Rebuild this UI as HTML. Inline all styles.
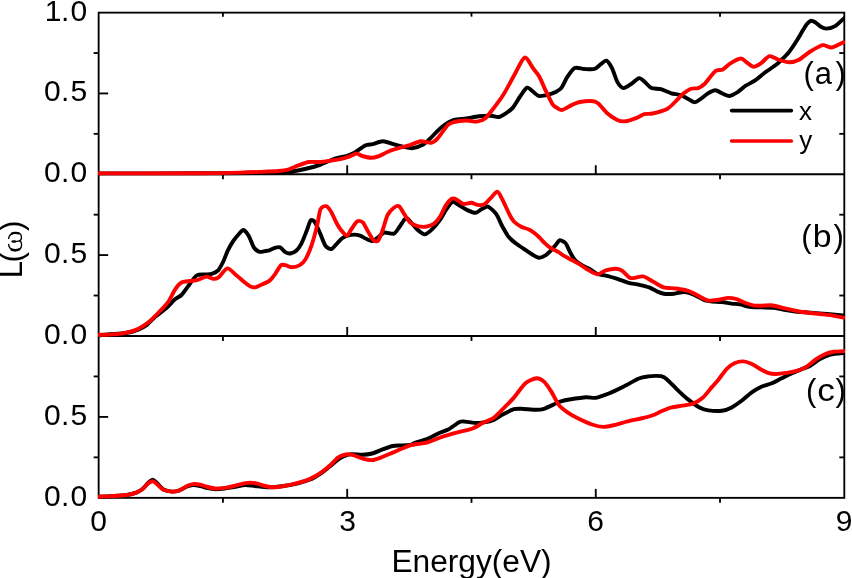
<!DOCTYPE html>
<html><head><meta charset="utf-8"><style>
html,body{margin:0;padding:0;background:#fff;width:852px;height:578px;overflow:hidden}
svg{display:block;will-change:transform;font-family:"Liberation Sans", sans-serif}
</style></head><body><svg width="852" height="578" viewBox="0 0 852 578"><defs><clipPath id="cp"><rect x="97.8" y="0" width="747.2" height="578"/></clipPath></defs><g stroke="#000" stroke-width="1.85" fill="none"><rect x="98.65" y="12.64" width="745.65" height="485.21000000000004" fill="none"/><line x1="98.65" y1="174.25" x2="844.3" y2="174.25"/><line x1="98.65" y1="335.95" x2="844.3" y2="335.95"/><line x1="98.65" y1="93.44" x2="108.15" y2="93.44"/><line x1="93.65" y1="133.85" x2="98.65" y2="133.85"/><line x1="839.3" y1="133.85" x2="844.3" y2="133.85"/><line x1="93.65" y1="53.04" x2="98.65" y2="53.04"/><line x1="839.3" y1="53.04" x2="844.3" y2="53.04"/><line x1="347.20" y1="174.25" x2="347.20" y2="165.25"/><line x1="595.75" y1="174.25" x2="595.75" y2="165.25"/><line x1="222.93" y1="174.25" x2="222.93" y2="179.25"/><line x1="471.48" y1="174.25" x2="471.48" y2="179.25"/><line x1="720.02" y1="174.25" x2="720.02" y2="179.25"/><line x1="98.65" y1="255.10" x2="108.15" y2="255.10"/><line x1="93.65" y1="295.52" x2="98.65" y2="295.52"/><line x1="839.3" y1="295.52" x2="844.3" y2="295.52"/><line x1="93.65" y1="214.68" x2="98.65" y2="214.68"/><line x1="839.3" y1="214.68" x2="844.3" y2="214.68"/><line x1="347.20" y1="335.95" x2="347.20" y2="326.95"/><line x1="595.75" y1="335.95" x2="595.75" y2="326.95"/><line x1="222.93" y1="335.95" x2="222.93" y2="340.95"/><line x1="471.48" y1="335.95" x2="471.48" y2="340.95"/><line x1="720.02" y1="335.95" x2="720.02" y2="340.95"/><line x1="98.65" y1="416.90" x2="108.15" y2="416.90"/><line x1="93.65" y1="457.38" x2="98.65" y2="457.38"/><line x1="839.3" y1="457.38" x2="844.3" y2="457.38"/><line x1="93.65" y1="376.43" x2="98.65" y2="376.43"/><line x1="839.3" y1="376.43" x2="844.3" y2="376.43"/><line x1="347.20" y1="497.85" x2="347.20" y2="488.85"/><line x1="595.75" y1="497.85" x2="595.75" y2="488.85"/><line x1="222.93" y1="497.85" x2="222.93" y2="502.85"/><line x1="471.48" y1="497.85" x2="471.48" y2="502.85"/><line x1="720.02" y1="497.85" x2="720.02" y2="502.85"/><line x1="222.93" y1="12.64" x2="222.93" y2="16.64"/><line x1="471.48" y1="12.64" x2="471.48" y2="16.64"/><line x1="720.02" y1="12.64" x2="720.02" y2="16.64"/></g><g clip-path="url(#cp)" fill="none" stroke-width="3.9" stroke-linejoin="round" stroke-linecap="butt"><path d="M98.0,173.4C110.9,173.4 179.5,173.3 200.0,173.3C220.5,173.3 250.5,173.2 260.0,173.1C269.5,173.0 271.4,172.9 275.0,172.8C278.6,172.7 284.1,172.8 288.2,172.3C292.3,171.8 303.0,169.4 307.0,168.5C311.0,167.6 316.5,166.1 320.0,164.8C323.5,163.5 331.7,159.7 335.0,158.6C338.3,157.5 344.0,156.7 346.4,156.0C348.8,155.3 351.5,154.3 353.9,153.0C356.3,151.7 362.8,146.5 365.2,145.4C367.6,144.3 370.4,144.6 372.7,144.1C375.0,143.6 380.1,141.2 383.0,141.3C385.9,141.4 392.8,144.0 395.2,144.7C397.6,145.4 399.9,146.1 402.0,146.5C404.1,146.9 409.4,148.4 412.0,148.2C414.6,148.0 420.4,146.1 422.8,144.8C425.2,143.5 428.7,139.8 431.1,137.6C433.5,135.4 438.6,129.4 441.5,127.2C444.4,125.0 450.8,121.0 454.0,119.9C457.2,118.8 463.2,119.0 466.4,118.5C469.6,118.0 475.7,116.5 478.9,116.2C482.1,115.9 488.7,115.7 491.3,115.8C493.9,115.9 497.0,117.7 499.6,116.8C502.2,115.9 509.5,111.1 512.1,108.5C514.7,105.9 518.5,98.6 520.4,96.0C522.3,93.4 525.4,88.3 527.0,87.7C528.6,87.1 531.4,90.4 532.9,91.5C534.4,92.6 537.0,95.6 539.1,96.0C541.2,96.4 547.5,94.9 549.5,94.4C551.5,93.9 553.5,93.1 555.0,92.3C556.5,91.5 559.6,90.1 561.2,88.1C562.8,86.1 565.8,79.2 567.5,76.7C569.2,74.2 572.6,69.0 574.7,68.0C576.8,67.0 581.6,68.9 584.1,69.0C586.6,69.1 592.3,69.6 594.4,69.0C596.5,68.4 599.2,65.4 600.7,64.3C602.2,63.2 605.1,60.2 606.5,60.7C607.9,61.2 610.7,65.7 612.1,68.4C613.5,71.1 615.9,79.4 617.3,81.9C618.7,84.4 621.7,87.9 623.5,88.1C625.3,88.3 629.8,84.9 631.8,83.6C633.8,82.3 637.5,78.5 639.1,78.2C640.7,77.9 642.7,80.2 644.3,81.5C645.9,82.8 649.4,87.1 651.5,88.1C653.6,89.1 658.4,88.5 660.9,89.2C663.4,89.9 668.7,92.5 671.3,93.3C673.9,94.1 678.7,94.3 681.6,95.4C684.5,96.5 691.8,101.7 694.1,102.2C696.4,102.7 698.3,100.5 700.0,99.4C701.7,98.3 705.7,94.9 707.6,93.7C709.5,92.5 713.3,90.3 715.2,90.3C717.1,90.3 721.0,93.0 722.8,93.7C724.6,94.4 727.6,96.2 729.5,96.0C731.4,95.8 735.9,93.1 738.0,91.8C740.1,90.5 743.5,87.1 745.7,85.7C747.9,84.3 752.8,82.0 755.2,80.4C757.6,78.8 762.1,74.8 764.7,72.8C767.3,70.8 774.1,66.3 776.1,64.8C778.1,63.3 778.8,62.4 780.4,60.8C782.0,59.2 786.6,55.0 788.7,52.4C790.8,49.8 795.2,43.2 797.0,40.3C798.8,37.4 801.9,31.9 803.2,29.8C804.5,27.7 806.2,24.7 807.3,23.6C808.4,22.5 810.3,20.8 811.5,20.8C812.7,20.8 815.6,22.6 816.7,23.3C817.8,24.0 819.3,25.8 820.5,26.5C821.7,27.2 824.7,28.6 826.5,28.6C828.3,28.6 832.8,27.6 835.1,26.2C837.4,24.8 843.7,18.6 845.0,17.5" stroke="#000"/><path d="M98.0,173.4C110.9,173.4 182.0,173.3 200.0,173.2C218.0,173.1 232.4,172.8 240.0,172.6C247.6,172.4 255.1,172.1 260.0,171.9C264.9,171.7 275.2,171.3 278.8,171.0C282.4,170.7 285.8,170.2 288.2,169.5C290.6,168.8 295.0,166.6 297.6,165.7C300.2,164.8 305.9,162.5 308.8,162.0C311.7,161.5 317.2,162.2 320.1,162.0C323.0,161.8 328.5,160.9 331.4,160.5C334.2,160.1 340.2,159.1 342.6,158.6C345.0,158.1 348.3,156.9 350.1,156.3C351.9,155.7 355.2,153.5 356.7,153.5C358.2,153.5 360.5,155.5 362.3,156.0C364.1,156.5 368.8,157.8 370.8,157.8C372.8,157.8 375.9,157.2 378.3,156.3C380.7,155.4 386.5,152.2 389.6,151.0C392.7,149.8 400.1,147.8 402.7,147.0C405.3,146.2 408.1,145.5 410.4,144.8C412.7,144.1 418.2,141.6 420.8,141.3C423.4,141.0 429.0,143.1 431.1,142.8C433.2,142.5 435.3,140.8 437.4,138.6C439.5,136.4 445.6,127.2 447.7,125.1C449.8,123.0 451.6,122.6 454.0,122.0C456.4,121.4 463.5,120.6 466.4,120.5C469.3,120.4 474.4,121.9 476.8,121.6C479.2,121.3 483.0,120.2 485.1,118.5C487.2,116.8 491.0,111.6 493.4,108.5C495.8,105.4 501.2,98.2 503.8,94.0C506.4,89.8 511.6,79.9 514.2,75.3C516.8,70.7 522.2,58.5 524.6,57.6C527.0,56.7 531.1,65.6 532.9,68.0C534.7,70.4 537.5,73.5 539.1,76.3C540.7,79.1 543.6,86.2 545.3,89.8C547.0,93.4 551.0,102.0 552.6,104.4C554.2,106.8 556.8,107.8 558.0,108.5C559.2,109.2 560.6,110.3 562.3,109.9C564.0,109.5 569.4,106.1 571.6,105.1C573.8,104.1 577.1,102.5 579.9,102.0C582.7,101.5 591.0,101.0 593.4,101.2C595.8,101.4 596.9,102.2 598.6,103.7C600.3,105.2 604.5,110.9 606.9,113.0C609.3,115.1 614.9,118.8 617.3,119.9C619.7,121.0 623.2,121.5 625.6,121.3C628.0,121.1 633.6,119.1 636.0,118.2C638.4,117.3 642.2,114.7 644.3,114.1C646.4,113.5 649.7,114.2 652.6,113.5C655.5,112.8 664.2,110.4 667.1,108.9C670.0,107.4 673.3,103.6 675.4,101.6C677.5,99.6 681.7,94.9 683.7,93.3C685.7,91.7 689.2,89.5 691.0,88.8C692.8,88.1 696.5,88.7 698.2,88.1C699.9,87.5 702.3,86.1 704.5,84.0C706.7,81.9 712.9,73.1 715.2,71.3C717.5,69.5 720.9,70.5 722.8,69.5C724.7,68.5 728.1,64.7 730.4,63.3C732.7,61.9 738.8,58.6 740.9,58.5C743.0,58.4 745.0,61.3 746.6,62.3C748.2,63.3 751.5,66.6 753.3,66.7C755.1,66.8 758.9,64.6 760.9,63.3C762.9,62.0 767.2,56.7 769.4,56.2C771.6,55.7 775.5,58.7 778.0,59.5C780.5,60.3 786.8,62.3 789.4,62.3C792.0,62.3 796.3,61.2 798.9,59.8C801.5,58.4 807.3,53.3 810.3,51.5C813.3,49.7 820.0,45.7 822.7,45.2C825.4,44.7 828.5,48.0 831.3,47.5C834.1,47.0 843.3,42.3 845.0,41.5" stroke="#f00"/><path d="M98.0,335.4C101.7,335.1 122.3,333.5 127.4,332.8C132.5,332.1 135.7,330.6 138.2,329.6C140.7,328.6 144.7,326.4 146.9,324.8C149.1,323.2 153.0,318.7 155.5,316.6C158.0,314.5 163.9,310.2 166.4,308.0C168.9,305.8 173.1,300.9 175.0,299.3C176.9,297.7 179.9,296.6 181.5,295.0C183.1,293.4 186.1,288.9 188.0,286.4C189.9,283.9 194.4,277.0 196.6,275.5C198.8,274.0 203.4,274.7 205.3,274.5C207.2,274.3 210.2,274.3 211.8,273.8C213.4,273.3 216.7,271.9 218.2,270.3C219.7,268.7 222.1,263.9 223.3,261.5C224.5,259.1 226.3,253.6 227.5,251.1C228.7,248.6 231.6,243.5 233.0,241.4C234.4,239.3 237.2,235.9 238.5,234.5C239.8,233.1 242.1,229.8 243.4,230.0C244.7,230.2 247.6,234.0 248.9,236.2C250.2,238.4 252.5,245.4 253.8,247.4C255.1,249.4 257.9,251.3 259.3,251.8C260.7,252.3 263.7,251.3 265.0,251.1C266.3,250.9 268.2,250.7 269.5,250.3C270.8,249.9 273.6,248.3 274.9,247.9C276.2,247.5 278.8,246.9 280.1,247.4C281.4,247.9 284.0,251.4 285.3,252.2C286.6,253.0 288.6,253.7 290.0,253.5C291.4,253.3 294.8,252.1 296.2,250.8C297.6,249.5 300.1,246.1 301.4,243.6C302.7,241.1 305.4,234.0 306.6,231.1C307.8,228.2 309.6,221.5 310.7,220.4C311.8,219.3 313.7,220.7 314.9,222.3C316.1,223.9 318.8,230.2 320.1,233.2C321.4,236.2 323.9,243.6 325.3,245.6C326.7,247.6 330.0,249.3 331.5,249.0C333.0,248.7 335.8,244.7 337.2,243.3C338.6,241.9 340.9,239.3 342.2,238.3C343.5,237.3 345.9,236.2 347.5,235.7C349.1,235.2 353.2,234.6 354.8,234.6C356.4,234.6 358.7,235.2 360.1,235.7C361.5,236.2 364.6,238.1 366.2,238.8C367.8,239.5 370.8,241.3 372.4,241.0C374.0,240.7 377.2,237.9 378.7,236.8C380.2,235.7 382.5,232.9 384.4,232.5C386.3,232.1 392.0,234.3 393.9,233.6C395.8,232.9 398.1,228.8 399.4,227.0C400.7,225.2 403.5,220.6 404.5,219.5C405.5,218.4 406.7,218.1 407.5,218.5C408.3,218.9 409.9,221.1 411.2,222.5C412.5,223.9 415.8,228.3 417.5,229.8C419.2,231.3 422.9,234.5 424.7,234.4C426.5,234.3 430.0,231.3 432.0,229.4C434.0,227.5 438.5,222.0 440.3,219.4C442.1,216.8 444.9,211.3 446.5,209.1C448.1,206.9 451.0,202.2 452.7,201.8C454.4,201.4 458.2,204.8 460.0,205.9C461.8,207.0 465.3,209.2 467.3,210.1C469.3,211.0 473.8,212.9 475.6,212.8C477.4,212.7 480.2,209.9 481.8,209.1C483.4,208.3 486.2,206.0 488.0,206.6C489.8,207.2 494.5,211.7 496.3,214.2C498.1,216.7 500.9,223.8 502.5,226.7C504.1,229.6 507.0,234.9 508.8,237.1C510.6,239.3 515.0,242.7 517.1,244.3C519.2,245.9 523.4,248.6 525.4,249.9C527.4,251.2 530.9,253.7 532.6,254.7C534.3,255.7 537.2,257.7 538.8,257.8C540.4,257.9 544.0,256.3 545.5,255.4C547.0,254.5 549.8,251.6 551.0,250.4C552.2,249.2 554.2,246.9 555.3,245.6C556.4,244.3 558.3,240.7 559.5,240.3C560.7,239.9 563.5,241.6 564.4,242.1C565.3,242.6 565.7,243.2 566.5,244.6C567.3,246.0 569.4,251.0 570.5,253.0C571.6,255.0 573.7,258.7 575.3,260.3C576.9,261.9 580.8,264.5 582.8,265.7C584.8,266.9 589.3,268.7 591.1,269.8C592.9,270.9 595.6,273.3 597.4,274.0C599.2,274.7 603.1,275.0 605.7,275.6C608.3,276.2 615.2,278.2 618.1,279.1C621.0,280.0 625.9,282.2 628.5,282.9C631.1,283.6 636.3,284.1 638.9,284.7C641.5,285.3 646.8,286.5 649.2,287.4C651.6,288.3 655.7,290.8 657.5,291.6C659.3,292.4 661.7,293.4 663.8,293.7C665.9,294.0 671.5,293.9 674.1,293.7C676.7,293.5 681.9,291.8 684.5,292.0C687.1,292.2 692.3,294.0 694.9,295.1C697.5,296.2 703.1,299.7 705.3,300.5C707.5,301.3 709.9,301.3 712.0,301.5C714.1,301.7 719.4,301.7 721.9,302.0C724.4,302.3 729.4,303.3 731.7,303.6C734.0,303.9 737.6,304.0 739.9,304.4C742.2,304.8 747.1,306.5 749.8,306.9C752.5,307.3 758.2,307.3 761.3,307.4C764.4,307.5 771.3,307.3 774.4,307.7C777.5,308.1 783.0,309.7 785.9,310.2C788.8,310.7 794.3,311.5 797.4,311.8C800.5,312.1 806.9,312.4 810.6,312.7C814.3,313.0 822.6,313.6 827.0,314.0C831.4,314.4 842.7,315.4 845.0,315.6" stroke="#000"/><path d="M98.0,335.0C99.8,334.9 109.1,334.6 112.3,334.4C115.5,334.2 120.4,333.8 123.1,333.3C125.8,332.8 131.4,331.6 133.9,330.7C136.4,329.8 140.4,327.8 142.6,326.4C144.8,325.0 149.0,321.8 151.2,319.9C153.4,318.0 157.7,313.5 159.9,311.2C162.1,308.9 166.6,304.2 168.5,301.5C170.4,298.8 173.4,292.0 175.0,289.6C176.6,287.2 179.6,283.6 181.5,282.5C183.4,281.4 188.0,281.3 190.1,281.0C192.2,280.7 195.6,280.5 197.7,279.9C199.8,279.3 204.5,276.7 206.4,276.6C208.3,276.5 211.3,278.7 212.8,278.8C214.3,278.9 216.4,279.0 218.2,277.7C220.0,276.4 225.1,268.8 227.3,268.4C229.5,268.0 233.4,272.8 235.5,274.5C237.6,276.2 242.4,280.5 244.2,282.0C246.0,283.5 248.6,285.5 250.0,286.2C251.4,286.9 253.6,287.6 255.2,287.3C256.8,287.0 260.7,285.0 262.5,284.2C264.3,283.4 268.1,281.8 269.7,280.6C271.3,279.4 273.5,276.3 274.9,274.4C276.3,272.5 279.4,266.7 280.7,265.5C282.0,264.3 283.9,264.9 285.3,265.1C286.7,265.3 289.7,267.2 291.5,267.2C293.3,267.2 298.0,266.1 299.8,265.1C301.6,264.1 304.1,261.7 305.6,259.1C307.1,256.5 310.4,248.8 311.8,244.6C313.2,240.4 315.9,230.4 317.0,225.9C318.1,221.4 319.4,211.5 320.6,209.0C321.8,206.5 324.9,205.8 326.3,206.2C327.7,206.6 330.3,210.4 331.5,212.4C332.7,214.4 334.8,219.8 336.0,222.0C337.2,224.2 339.6,228.3 341.0,230.0C342.4,231.7 345.6,235.8 346.9,235.7C348.2,235.6 350.2,230.8 351.5,229.0C352.8,227.2 355.8,222.2 357.2,221.4C358.6,220.6 361.4,221.1 362.8,222.4C364.2,223.7 366.6,229.2 368.0,231.5C369.4,233.8 372.2,239.1 373.5,240.2C374.8,241.3 377.1,241.9 378.3,240.5C379.5,239.1 381.8,232.2 383.0,229.0C384.2,225.8 386.2,217.7 387.6,215.0C389.0,212.3 392.4,208.8 393.9,207.7C395.4,206.6 397.9,205.4 399.2,206.3C400.5,207.2 403.1,212.4 404.5,214.5C405.9,216.6 408.6,221.0 410.2,222.5C411.8,224.0 415.5,225.6 417.5,226.1C419.5,226.6 423.7,227.0 425.8,226.7C427.9,226.4 432.3,224.9 434.1,223.6C435.9,222.3 438.9,218.5 440.3,216.3C441.7,214.1 444.1,208.1 445.5,205.9C446.9,203.7 450.3,199.5 451.7,198.7C453.1,197.9 455.5,199.0 456.9,199.7C458.3,200.4 461.3,203.5 463.1,203.9C464.9,204.3 469.6,202.7 471.4,202.8C473.2,202.9 476.0,204.7 477.6,204.9C479.2,205.1 482.3,205.3 483.9,204.5C485.5,203.7 488.4,200.3 490.1,198.7C491.8,197.1 495.7,191.7 497.3,191.8C498.9,191.9 501.0,197.0 502.5,199.7C504.0,202.4 507.4,210.4 508.8,213.2C510.2,216.0 512.3,219.8 513.9,221.5C515.5,223.2 519.2,225.6 521.2,226.7C523.2,227.8 527.5,228.7 529.5,229.8C531.5,230.9 534.8,233.3 536.8,235.0C538.8,236.7 543.2,241.6 545.0,243.3C546.8,245.0 549.2,247.0 551.0,248.1C552.8,249.2 557.5,251.4 559.0,252.3C560.5,253.2 561.5,254.4 563.2,255.4C564.9,256.4 570.3,259.2 572.3,260.3C574.3,261.4 577.1,262.8 579.0,263.9C580.9,265.0 584.7,267.9 587.0,269.2C589.3,270.5 595.0,274.2 597.4,274.4C599.8,274.6 603.3,271.1 605.7,270.4C608.1,269.7 613.9,268.7 616.0,268.8C618.1,268.9 620.5,269.6 622.3,270.8C624.1,272.0 628.0,277.4 630.6,278.1C633.2,278.8 640.1,275.9 643.0,276.4C645.9,276.9 650.8,280.4 653.4,281.8C656.0,283.2 660.9,286.6 663.8,287.4C666.7,288.2 673.0,288.0 676.2,288.5C679.4,289.0 686.1,290.2 688.7,291.0C691.3,291.8 694.6,293.9 697.0,295.1C699.4,296.3 705.1,299.6 707.3,300.3C709.5,301.0 712.4,300.4 714.0,300.3C715.6,300.2 718.4,299.8 720.2,299.5C722.0,299.2 726.3,297.9 728.4,297.9C730.5,297.9 734.5,298.6 736.6,299.2C738.7,299.8 742.8,302.0 744.9,302.8C747.0,303.6 751.0,304.9 753.1,305.3C755.2,305.7 759.0,305.7 761.3,305.7C763.6,305.7 768.7,305.1 771.2,305.3C773.7,305.5 778.5,306.8 781.0,307.4C783.5,308.0 788.4,309.1 790.9,309.7C793.4,310.3 798.2,311.4 800.7,311.8C803.2,312.2 808.1,312.7 810.6,313.0C813.1,313.3 817.9,313.7 820.4,314.0C822.9,314.3 827.2,314.6 830.3,315.1C833.4,315.6 843.1,317.5 845.0,317.9" stroke="#f00"/><path d="M98.0,496.7C100.0,496.6 110.1,496.2 113.8,496.0C117.5,495.8 124.0,495.4 126.9,495.0C129.8,494.6 134.3,493.4 136.3,492.6C138.3,491.8 141.4,489.9 142.9,488.6C144.4,487.3 147.2,483.6 148.5,482.5C149.8,481.4 152.0,479.6 153.2,479.8C154.4,480.0 156.6,482.8 157.9,484.0C159.2,485.2 161.7,488.5 163.5,489.5C165.3,490.5 170.0,491.5 172.0,491.6C174.0,491.7 177.6,490.9 179.5,490.3C181.4,489.7 185.3,487.2 187.0,486.5C188.7,485.8 191.0,485.1 192.7,485.0C194.4,484.9 198.3,485.6 200.2,486.0C202.1,486.4 205.8,487.8 207.7,488.2C209.6,488.6 213.1,489.2 215.2,489.2C217.3,489.2 222.2,488.8 224.6,488.5C227.0,488.2 231.4,487.4 234.0,487.0C236.6,486.6 242.5,485.1 245.2,485.0C247.9,484.9 252.0,485.7 255.0,486.0C258.0,486.3 265.2,487.3 268.8,487.3C272.4,487.3 280.2,486.5 283.8,486.0C287.4,485.5 293.7,484.4 297.0,483.6C300.3,482.8 307.0,480.8 310.1,479.5C313.2,478.2 318.8,474.7 321.4,473.0C324.0,471.3 328.7,467.4 330.8,465.7C332.9,464.0 336.6,460.7 338.3,459.5C340.0,458.3 342.2,457.0 343.9,456.3C345.6,455.6 349.0,454.3 351.4,454.1C353.8,453.9 360.1,454.9 362.7,454.8C365.3,454.7 369.7,454.1 372.1,453.5C374.5,452.9 378.9,450.8 381.5,449.8C384.1,448.9 390.4,446.5 392.7,446.0C395.0,445.5 397.8,445.6 400.0,445.5C402.2,445.4 407.9,445.4 410.0,445.0C412.1,444.6 414.1,443.1 416.3,442.3C418.5,441.5 424.6,440.1 427.5,438.9C430.4,437.7 436.2,434.4 438.8,433.2C441.4,432.0 445.6,430.9 448.2,429.5C450.8,428.1 457.4,423.0 459.5,422.0C461.6,421.0 463.2,421.5 465.1,421.6C467.0,421.7 472.1,422.8 474.5,422.9C476.9,423.0 481.5,422.7 483.9,422.3C486.3,421.9 490.9,421.1 493.3,420.1C495.7,419.1 500.1,415.9 502.7,414.5C505.3,413.1 511.5,409.9 513.9,409.2C516.3,408.5 518.5,408.7 521.4,408.8C524.3,408.9 533.6,409.8 536.5,409.8C539.4,409.8 541.6,409.6 544.0,408.8C546.4,408.0 553.2,404.7 555.2,403.8C557.2,402.9 558.2,402.1 560.0,401.6C561.8,401.1 566.1,400.0 569.4,399.5C572.7,399.0 583.0,397.5 586.3,397.3C589.6,397.1 592.9,398.3 595.7,397.8C598.6,397.3 605.2,394.9 608.8,393.5C612.4,392.1 620.0,388.4 623.8,386.5C627.6,384.6 635.8,379.8 638.9,378.5C642.0,377.2 646.2,376.7 648.3,376.4C650.4,376.1 653.6,375.9 655.2,375.9C656.8,375.9 659.6,375.8 661.1,376.2C662.6,376.6 665.1,377.8 667.0,379.4C668.9,381.0 673.8,386.3 676.4,388.8C679.0,391.3 684.8,396.8 687.7,399.1C690.6,401.4 696.4,405.8 699.0,407.2C701.6,408.6 705.5,410.0 708.4,410.4C711.3,410.8 718.9,411.1 721.9,410.7C724.9,410.3 729.2,408.7 731.7,407.4C734.2,406.1 739.1,402.7 741.6,400.8C744.1,398.9 748.9,394.4 751.4,392.6C753.9,390.8 758.8,388.0 761.3,386.8C763.8,385.6 768.7,384.5 771.2,383.5C773.7,382.5 778.5,379.8 781.0,378.6C783.5,377.4 788.4,374.8 790.9,373.7C793.4,372.6 798.2,370.6 800.7,369.6C803.2,368.6 808.1,366.9 810.6,365.5C813.1,364.1 817.9,360.3 820.4,358.9C822.9,357.5 827.2,355.3 830.3,354.5C833.4,353.7 843.1,353.0 845.0,352.8" stroke="#000"/><path d="M98.0,496.7C100.0,496.6 110.1,496.2 113.8,496.0C117.5,495.8 124.0,495.4 126.9,495.0C129.8,494.6 134.3,493.4 136.3,492.6C138.3,491.8 141.4,490.0 142.9,488.8C144.4,487.6 147.2,484.1 148.5,483.2C149.8,482.2 152.0,481.1 153.2,481.3C154.4,481.5 156.6,484.0 157.9,485.1C159.2,486.2 161.7,489.0 163.5,489.8C165.3,490.6 170.0,491.5 172.0,491.6C174.0,491.7 177.6,491.0 179.5,490.3C181.4,489.6 185.3,486.8 187.0,486.0C188.7,485.2 191.0,484.3 192.7,484.1C194.4,483.9 198.3,484.3 200.2,484.7C202.1,485.1 205.8,486.5 207.7,487.0C209.6,487.5 213.1,488.4 215.2,488.5C217.3,488.6 222.2,488.2 224.6,487.9C227.0,487.6 231.4,486.6 234.0,486.0C236.6,485.4 243.2,483.6 245.2,483.2C247.2,482.8 248.4,482.5 250.0,482.6C251.6,482.7 255.6,483.2 257.5,483.6C259.4,484.0 262.9,485.5 265.0,486.0C267.1,486.5 272.0,487.3 274.4,487.3C276.8,487.3 280.9,486.5 283.8,486.0C286.7,485.5 293.7,484.1 297.0,483.2C300.3,482.3 307.0,480.3 310.1,478.9C313.2,477.5 318.8,474.1 321.4,472.3C324.0,470.5 328.7,466.7 330.8,464.8C332.9,462.9 336.4,458.6 338.3,457.3C340.2,456.0 344.0,454.8 345.8,454.5C347.6,454.2 350.2,454.3 352.3,454.8C354.4,455.3 360.2,457.9 362.7,458.6C365.2,459.3 369.7,460.3 372.1,460.1C374.5,459.9 378.9,458.2 381.5,457.3C384.1,456.4 390.1,453.7 392.7,452.6C395.3,451.5 399.9,449.4 402.1,448.5C404.3,447.6 408.4,445.9 410.0,445.4C411.6,444.9 412.2,444.9 414.4,444.5C416.6,444.1 423.9,443.3 427.5,442.3C431.1,441.3 438.8,437.9 442.6,436.6C446.4,435.3 453.8,433.3 457.6,432.3C461.4,431.3 469.3,429.8 472.6,428.5C475.9,427.2 481.3,423.6 483.9,422.3C486.5,421.0 490.9,419.9 493.3,418.2C495.7,416.5 500.1,411.8 502.7,409.2C505.3,406.6 511.0,400.9 513.9,397.6C516.8,394.3 522.3,386.0 525.2,383.5C528.1,381.0 534.1,378.4 536.5,378.2C538.9,378.0 542.1,379.9 544.0,381.6C545.9,383.3 549.6,388.9 551.5,391.9C553.4,394.9 557.0,402.5 559.0,405.1C561.0,407.7 565.0,410.6 567.5,412.3C570.0,414.0 575.7,417.3 578.8,418.8C581.9,420.3 588.8,423.5 591.9,424.5C595.0,425.5 600.3,426.8 603.2,426.9C606.1,427.0 611.4,425.7 614.5,425.0C617.6,424.3 624.3,422.1 627.6,421.3C630.9,420.5 637.7,419.2 640.8,418.5C643.9,417.8 649.4,416.4 652.0,415.5C654.6,414.6 659.0,412.3 661.4,411.3C663.8,410.3 668.2,408.3 670.8,407.6C673.4,406.9 679.2,406.2 682.1,405.7C685.0,405.2 690.7,404.5 693.3,403.5C695.9,402.5 700.3,399.9 702.7,397.8C705.1,395.7 710.1,389.2 712.1,386.9C714.1,384.6 716.7,381.7 718.6,379.4C720.5,377.1 724.7,370.9 726.8,368.8C728.9,366.7 732.9,363.9 735.0,363.0C737.1,362.1 741.1,361.3 743.2,361.4C745.3,361.5 749.3,362.9 751.4,363.8C753.5,364.7 757.6,367.6 759.7,368.8C761.8,370.0 765.8,372.2 767.9,372.9C770.0,373.6 773.8,374.0 776.1,374.0C778.4,374.0 783.4,373.3 785.9,372.9C788.4,372.5 793.3,371.9 795.8,371.2C798.3,370.5 803.2,368.6 805.7,367.1C808.2,365.6 813.0,361.4 815.5,359.7C818.0,358.0 823.1,355.0 825.4,354.0C827.7,353.0 831.1,352.2 833.6,351.8C836.1,351.4 843.6,351.1 845.0,351.0" stroke="#f00"/></g><g font-family="'Liberation Sans', sans-serif" fill="#000"><text x="44.8 61.1 70.4" y="20.5" font-size="30">1.0</text><text x="43.9 61.1 70.4" y="101.4" font-size="30">0.5</text><text x="43.9 61.1 70.4" y="182.45000000000002" font-size="30">0.0</text><text x="43.9 61.1 70.4" y="263.29999999999995" font-size="30">0.5</text><text x="43.9 61.1 70.4" y="344.34999999999997" font-size="30">0.0</text><text x="43.9 61.1 70.4" y="425.09999999999997" font-size="30">0.5</text><text x="43.9 61.1 70.4" y="505.95" font-size="30">0.0</text><text x="98.6" y="531.2" font-size="30" text-anchor="middle">0</text><text x="347.5" y="531.2" font-size="30" text-anchor="middle">3</text><text x="595.5" y="531.2" font-size="30" text-anchor="middle">6</text><text x="844.1" y="531.2" font-size="30" text-anchor="middle">9</text><text transform="translate(394,571.7) scale(1.0223,1)" x="-2.54" y="0" font-size="31">Energy(eV)</text><text transform="translate(21.8,278.3) rotate(-90)" font-size="31">L</text><text transform="translate(21.8,262.5) rotate(-90)" font-size="31">(</text><text transform="translate(21.8,230.9) rotate(-90)" font-size="31">)</text><text x="803.5" y="83.8" font-size="31">(</text><text x="814.7" y="83.8" font-size="31">a</text><text x="835.6" y="83.8" font-size="31">)</text><text x="801.2" y="246.8" font-size="31">(</text><text transform="translate(812.82,246.8) scale(1.09,1)" font-size="31">b</text><text x="833.6" y="246.8" font-size="31">)</text><text x="805.9" y="400.8" font-size="31">(</text><text transform="translate(817.2,400.8) scale(1.138,1)" font-size="31">c</text><text x="835.6" y="400.8" font-size="31">)</text></g><g transform="translate(0,241.4) scale(1,1.1) translate(0,-241.4)"><path d="M8.5,239.2 C8.9,236.0 11.2,234.0 15.3,233.6 C19.0,233.3 21.5,234.8 21.5,237.6 C21.5,239.4 20.8,240.4 19.8,241.0 C21.0,241.6 21.7,242.9 21.6,244.8 C21.4,248.0 18.9,249.5 15.3,249.6 C11.6,249.6 9.0,248.0 8.5,243.6" fill="none" stroke="#000" stroke-width="1.35"/><path d="M11.2,234.6 C13.0,233.6 17.2,233.3 19.4,234.4" fill="none" stroke="#000" stroke-width="2.0"/><path d="M10.9,248.4 C13.0,249.6 17.6,249.8 19.6,248.4" fill="none" stroke="#000" stroke-width="2.2"/><path d="M19.8,241.0 C18.0,241.3 16.5,241.5 14.5,241.5" fill="none" stroke="#000" stroke-width="1.1"/><ellipse cx="13.9" cy="241.55" rx="2.7" ry="1.1" fill="#000"/></g><g font-family="'Liberation Sans', sans-serif" fill="#000"><line x1="731.7" y1="110.6" x2="791.3" y2="110.6" stroke="#000" stroke-width="3.7" stroke-linecap="round"/><line x1="731.7" y1="141" x2="791.3" y2="141" stroke="#f00" stroke-width="3.7" stroke-linecap="round"/><text x="798.9" y="119.6" font-size="26">x</text><text x="799.3" y="149.4" font-size="26">y</text></g></svg></body></html>
